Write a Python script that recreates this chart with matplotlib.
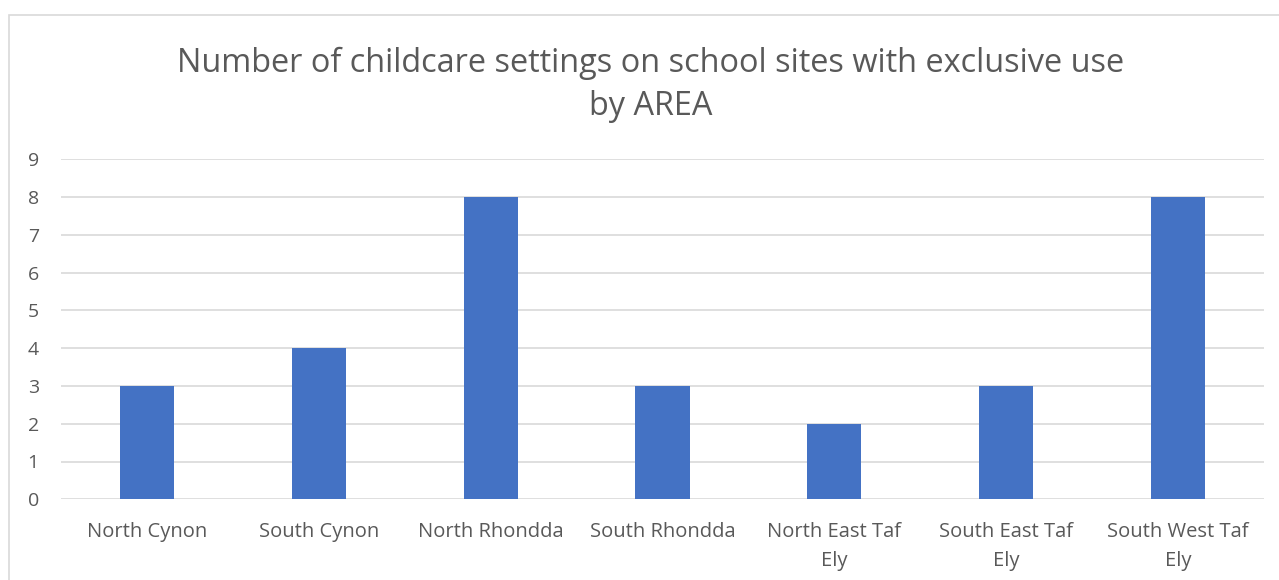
import matplotlib
matplotlib.use("Agg")
import matplotlib.pyplot as plt
from matplotlib.patches import Rectangle

categories = ["North Cynon", "South Cynon", "North Rhondda", "South Rhondda",
              "North East Taf\nEly", "South East Taf\nEly", "South West Taf\nEly"]
values = [3, 4, 8, 3, 2, 3, 8]
yticks = list(range(0, 10))

plt.rcParams['font.family'] = ['Open Sans', 'DejaVu Sans']
W, H = 1279, 580
fig = plt.figure(figsize=(W/100, H/100), dpi=100)
fig.patch.set_facecolor('white')

# chart border (left and top visible)
fig.patches.append(Rectangle((9/W, -0.1), 1.2, 1 - 15/H + 0.1, transform=fig.transFigure,
                             fill=False, edgecolor='#d9d9d9', linewidth=1.2))

ax = fig.add_axes([61/W, 1 - 499.3/H, (1264-61)/W, (499.3-159.1)/H])
x = range(len(categories))
ax.bar(x, values, width=0.315, color='#4472c4', zorder=3)
ax.set_xlim(-0.5, len(categories) - 0.5)
ax.set_ylim(0, 9)
ax.set_yticks(yticks)
ax.set_xticks(list(x))
ax.set_xticklabels(categories, fontsize=14.5, color='#595959', linespacing=1.57)
ax.tick_params(axis='y', labelsize=14, labelcolor='#595959', length=0, pad=16)
ax.tick_params(axis='x', length=0, pad=16.5)
for lbl in ax.get_yticklabels():
    lbl.set_horizontalalignment('right')
ax.grid(axis='y', color='#d9d9d9', linewidth=1.2, zorder=0)
for s in ax.spines.values():
    s.set_visible(False)

fig.text(651/W, 1 - 85/H, "Number of childcare settings on school sites with exclusive use\nby AREA",
         ha='center', va='center', fontsize=23.4, color='#595959', linespacing=1.4)

fig.savefig("out.png", dpi=100)
